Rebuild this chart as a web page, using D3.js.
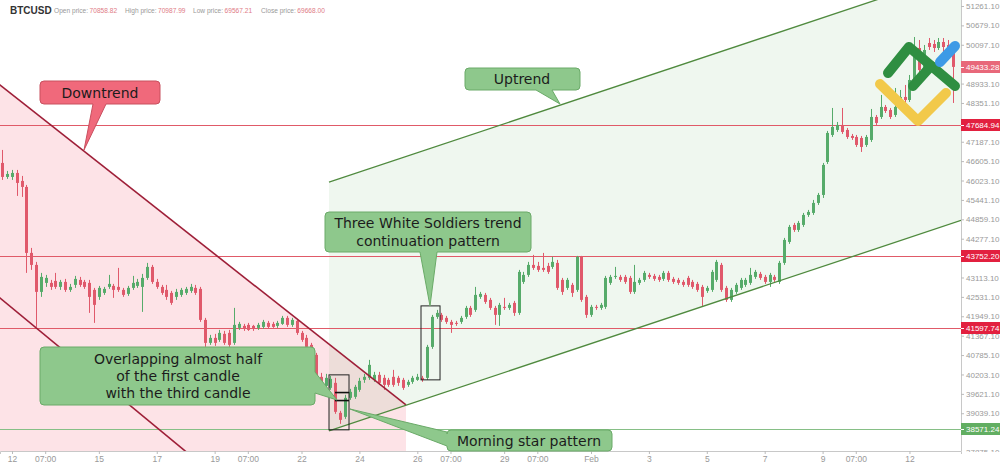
<!DOCTYPE html>
<html><head><meta charset="utf-8">
<script src="https://cdn.jsdelivr.net/npm/d3@7"></script>
<style>
html,body{margin:0;padding:0;background:#fff;}
svg{display:block;}
</style></head><body>
<svg id="chart" width="1000" height="467"></svg>
<script>
// ---------------- DATA ----------------
const symbol = "BTCUSD";
const headerLabels = ["Open price:", "High price:", "Low price:", "Close price:"];
const headerValues = ["70858.82", "70987.99", "69567.21", "69668.00"];

const startTime = "2022-01-11T16:00:00Z"; // first 4h candle
const candleHours = 4;

const opens = [46551,46131,46131,46251,46011,45831,43851,43491,42681,42951,
42951,43011,42831,42981,42741,42891,43041,42981,42951,42741,
42531,42651,42831,42861,42831,42741,42621,42801,42861,42831,
43101,43431,42981,42831,42741,42651,42531,42591,42651,42711,
42801,42771,41841,41151,41301,41241,41421,41451,41151,41601,
41661,41691,41661,41601,41631,41751,41721,41661,41721,41901,
41691,41811,41451,41301,41091,40791,40131,39861,39801,39951,
39051,38931,39501,39531,39741,40041,40101,40041,40191,40101,
40041,40131,40101,40041,39891,39981,40041,40101,40101,41031,
41931,41991,41901,41781,41751,41781,41931,42201,42141,42531,
42591,42441,42201,41991,42231,42201,42351,42051,42981,43191,
43491,43461,43401,43461,43431,43551,43041,42801,42891,42741,
43731,42531,41991,42231,42201,42231,42951,43131,43131,43131,
43101,42681,42951,43041,43191,43161,43131,43071,43251,43071,
43041,42981,43101,42981,42921,42831,42711,42741,43041,43491,
42801,42441,42681,42801,42891,42951,43131,43221,43131,42981,
43131,42981,43551,44181,44691,44541,44691,44991,45051,45351,
45591,46581,47391,47541,47691,47541,47361,47331,47301,47091,
47241,47931,47931,48231,48141,47991,48231,48531,48441,48801,
50001,49281,50151,50121,50001,50181,50091,49941];
const highs = [46941,46311,46341,46341,46161,45891,44001,43581,43251,43191,
43041,43251,43041,43071,42921,43161,43131,43041,43041,42801,
42861,42831,43191,42921,43401,42801,42861,43161,43071,43221,
43551,43491,43071,42891,42891,42711,42771,42801,42831,42921,
42891,42831,41901,41391,41421,41541,41511,41541,42201,41781,
41721,41751,41691,41751,41841,41811,41781,41811,41961,41961,
41901,41871,41511,41391,41151,40851,40251,40221,40161,40101,
39111,39591,39771,39891,40101,40221,40641,40281,40281,40191,
40101,40341,40161,40101,40041,40161,40221,40161,41091,41991,
42141,42051,41961,41841,41811,41961,42261,42261,42831,42681,
42651,42501,42261,42351,42501,42351,42411,43341,43281,43581,
43791,43581,43851,43551,43731,43641,43101,43101,42951,43761,
43761,42591,42291,42291,42351,43161,43191,43431,43191,43191,
43161,43491,43101,43311,43251,43221,43191,43311,43311,43131,
43101,43041,43161,43041,42981,42891,42861,43341,43641,43551,
42861,42801,42951,43101,43101,43401,43341,43281,43191,43251,
43191,43611,44301,44691,44751,44811,45051,45141,45441,45651,
46551,47511,48201,47781,48201,47601,47421,47391,47361,47391,
48171,47991,48591,48291,48201,48801,48741,48891,49191,50331,
50241,50091,50301,50241,50301,50301,50241,50181];
const lows = [46041,46071,46041,45561,45531,43251,43341,41631,42531,42831,
42741,42771,42741,42681,42681,42801,42831,42771,42051,41751,
42441,42591,42771,42501,42681,42531,42561,42741,42801,42081,
43041,42921,42771,42591,42441,42291,42441,42531,42591,42651,
42591,41781,41031,41091,41061,41181,41091,41031,41091,41541,
41511,41511,41511,41541,41571,41571,41601,41601,41691,41631,
41631,41391,41181,40941,40701,40041,39831,39771,39741,39021,
38721,38871,39441,39471,39681,39951,40041,39981,39891,39741,
39831,39831,39861,39741,39831,39921,40011,39981,40041,40971,
41871,41781,41721,41451,41661,41721,41871,41931,42081,42471,
42321,42141,41691,41661,42141,42141,41961,41991,42921,43131,
43341,43281,43281,43221,43371,42741,42591,42741,42531,42681,
42381,41901,41931,42141,42141,42171,42891,43071,42981,42921,
42621,42621,42891,42981,43071,43011,42981,43011,42981,42921,
42891,42831,42831,42771,42681,42261,42651,42681,42981,42681,
42381,42381,42621,42741,42831,42891,43071,43041,42921,42831,
42981,42921,43491,44121,44481,44481,44631,44931,44991,45291,
45501,46521,47331,47481,47421,47271,47241,47031,46881,47031,
47181,47691,47871,48051,47871,47931,48141,48291,48381,48741,
49191,49191,49941,49881,49941,49881,49641,48351];
const closes = [46131,46221,46251,45951,45831,43851,43491,42681,43131,43101,
42831,42831,42981,42741,42831,43071,42891,42831,42531,42291,
42801,42771,42921,42741,42741,42591,42801,42951,42981,43101,
43431,42981,42831,42651,42531,42351,42681,42741,42771,42831,
42651,41841,41151,41301,41151,41451,41151,41091,41691,41721,
41571,41541,41571,41691,41781,41631,41631,41751,41901,41691,
41841,41451,41241,41031,40761,40131,39891,40101,40071,39081,
38841,39501,39681,39831,40011,40131,40491,40191,39951,39891,
39891,39891,39951,39801,39981,40101,40131,40041,41031,41931,
42051,41841,41781,41691,41721,41901,42201,41991,42591,42621,
42381,42201,41991,42291,42201,42291,42051,43281,43191,43491,
43401,43341,43341,43281,43581,42801,42681,43041,42651,43731,
42441,41991,42231,42201,42291,43101,43131,43161,43041,42981,
42681,42981,43041,43251,43131,43071,43041,43251,43041,42981,
42951,42891,42891,42831,42741,42531,42801,43281,43581,42741,
42441,42741,42891,43041,43041,43191,43281,43101,42981,43191,
43041,43551,44241,44631,44541,44751,44991,45081,45351,45591,
46491,47451,47631,47691,47481,47331,47301,47091,47031,47331,
47931,47751,48231,48111,47931,48231,48531,48441,49041,50001,
49341,49941,50031,50001,50181,50031,49791,49433.28];

const priceTicks = [51261.10,50679.10,50097.10,49515.10,48933.10,48351.10,47769.10,47187.10,
46605.10,46023.10,45441.10,44859.10,44277.10,43695.10,43113.10,42531.10,41949.10,41367.10,
40785.10,40203.10,39621.10,39039.10,38457.10,37875.10];
const timeTickDates = ["2022-01-12T00:00Z","2022-01-13T03:30Z","2022-01-15T00:00Z","2022-01-17T00:00Z",
"2022-01-19T00:00Z","2022-01-20T03:30Z","2022-01-22T00:00Z","2022-01-24T00:00Z","2022-01-26T00:00Z",
"2022-01-27T03:30Z","2022-01-29T00:00Z","2022-01-30T03:30Z","2022-02-01T00:00Z","2022-02-03T00:00Z",
"2022-02-05T00:00Z","2022-02-07T00:00Z","2022-02-09T00:00Z","2022-02-10T03:30Z","2022-02-12T00:00Z"];
const timeTickLabels = ["12","07:00","15","17","19","07:00","22","24","26","07:00","29","07:00",
"Feb","3","5","7","9","07:00","12"];

const levelPrices = [47684.94, 43752.20, 41597.74, 38571.24];
const levelKinds = ["red","red","red","green"];
const lastPrice = 49433.28;

// trend channels (date, price)
const downUpper = [["2022-01-11T12:00Z",48951],["2022-01-25T14:38Z",39291]];
const downLower = [["2022-01-11T12:00Z",42561],["2022-01-18T11:50Z",37539]];
const upUpper = [["2022-01-22T22:48Z",45975],["2022-02-13T18:44Z",52290]];
const upLower = [["2022-01-22T22:48Z",38511],["2022-02-13T18:44Z",44826]];
const starBox = [["2022-01-22T22:48Z",40191],["2022-01-23T15:23Z",38541]];
const starMarks = [39660, 39420];
const soldiersBox = [["2022-01-26T03:04Z",42261],["2022-01-26T18:50Z",40041]];

// ---------------- CHART ----------------
const W = 1000, H = 467, plotR = 961, plotB = 451;
const svg = d3.select("#chart");
const x = d3.scaleUtc().domain([new Date("2022-01-11T14:03:00Z"), new Date("2022-02-13T18:44:00Z")]).range([0, plotR]);
const y = d3.scaleLinear().domain([37906, 51441]).range([plotB, 0]);
const P = (d, p) => [x(new Date(d)), y(p)];
const AX_FONT = "'Liberation Sans',Arial,sans-serif";

svg.append("rect").attr("width", W).attr("height", H).attr("fill", "#fff");
const defs = svg.append("defs");
defs.append("clipPath").attr("id", "plotClip").append("rect").attr("x", 0).attr("y", 0).attr("width", plotR).attr("height", plotB);
defs.append("clipPath").attr("id", "axClip").append("rect").attr("x", -2).attr("y", 0).attr("width", 45).attr("height", 452);

const plot = svg.append("g").attr("clip-path", "url(#plotClip)");

// channel fills
const downPoly = [P(downUpper[0][0], downUpper[0][1]), P(downUpper[1][0], downUpper[1][1]),
  P(downUpper[1][0], y.domain()[0]), P(downUpper[0][0], y.domain()[0])];
plot.append("path").attr("d", "M" + downPoly.join("L") + "Z").attr("fill", "rgba(245,100,120,0.18)");
const upPoly = [P(upUpper[0][0], upUpper[0][1]), P(upUpper[1][0], upUpper[1][1]),
  P(upLower[1][0], upLower[1][1]), P(upLower[0][0], upLower[0][1])];
plot.append("path").attr("d", "M" + upPoly.join("L") + "Z").attr("fill", "rgba(95,180,95,0.10)");

// horizontal levels
levelPrices.forEach((p, i) => {
  plot.append("line").attr("x1", 0).attr("x2", plotR).attr("y1", Math.round(y(p)) + 0.5).attr("y2", Math.round(y(p)) + 0.5)
    .attr("stroke", levelKinds[i] === "red" ? "#e05a68" : "#86bf86").attr("stroke-width", 1);
});

// candles
const t0 = new Date(startTime).getTime();
const candles = opens.map((o, i) => ({
  t: new Date(t0 + i * candleHours * 3600000), o, h: highs[i], l: lows[i], c: closes[i]
}));
const cg = plot.append("g");
candles.forEach(d => {
  const cx = x(d.t);
  const col = d.c >= d.o ? "#56ab6a" : "#e0596b";
  cg.append("line").attr("x1", Math.round(cx) + 0.5).attr("x2", Math.round(cx) + 0.5)
    .attr("y1", y(d.h)).attr("y2", y(d.l)).attr("stroke", col).attr("stroke-width", 1);
  const top = y(Math.max(d.o, d.c)), bot = y(Math.min(d.o, d.c));
  cg.append("rect").attr("x", Math.round(cx) - 1).attr("y", top).attr("width", 3)
    .attr("height", Math.max(1, bot - top)).attr("fill", col);
});

// trend lines
const seg = (a, col, w) => plot.append("line")
  .attr("x1", x(new Date(a[0][0]))).attr("y1", y(a[0][1]))
  .attr("x2", x(new Date(a[1][0]))).attr("y2", y(a[1][1]))
  .attr("stroke", col).attr("stroke-width", w);
seg(downUpper, "#9e1f38", 1.6);
seg(downLower, "#9e1f38", 1.6);
seg(upUpper, "#4f8a3e", 1.3);
seg(upLower, "#4f8a3e", 1.3);

// pattern boxes
const box = (b) => {
  const a = P(b[0][0], b[0][1]), c = P(b[1][0], b[1][1]);
  plot.append("rect").attr("x", a[0]).attr("y", a[1]).attr("width", c[0] - a[0]).attr("height", c[1] - a[1])
    .attr("fill", "none").attr("stroke", "#222").attr("stroke-width", 1);
  return [a, c];
};
const sb = box(starBox);
starMarks.forEach(p => plot.append("line").attr("x1", sb[0][0] + 6).attr("x2", sb[1][0]).attr("y1", y(p)).attr("y2", y(p))
  .attr("stroke", "#111").attr("stroke-width", 1.6));
box(soldiersBox);

// ---------- axes ----------
const xAxis = d3.axisBottom(x).tickValues(timeTickDates.map(d => new Date(d)))
  .tickFormat((d, i) => timeTickLabels[i]).tickSize(3).tickPadding(2);
const gx = svg.append("g").attr("transform", `translate(0,${plotB})`).call(xAxis);
gx.select(".domain").attr("stroke", "#c8c8c8");
gx.selectAll(".tick line").attr("stroke", "#bbb");
gx.selectAll(".tick text").attr("fill", "#999").style("font-family", AX_FONT).style("font-size", "8.5px");

// tick labels fully covered by a price tag are not drawn (hidden in the reference too)
const tagPrices = [lastPrice].concat(levelPrices);
const shownTicks = priceTicks.filter(v => !tagPrices.some(p => Math.abs(y(v) - y(p)) < 5));
const yAxis = d3.axisRight(y).tickValues(shownTicks).tickFormat(d3.format(".2f")).tickSize(3).tickPadding(2);
const gy = svg.append("g").attr("transform", `translate(${plotR},0)`).attr("clip-path", "url(#axClip)").call(yAxis);
gy.select(".domain").attr("stroke", "#c8c8c8").attr("d", `M0.5,0V${plotB}`);
gy.selectAll(".tick line").attr("stroke", "#bbb");
gy.selectAll(".tick text").attr("fill", "#999").style("font-family", AX_FONT).style("font-size", "8px");

// price tags
const tag = (p, fill) => {
  const yy = Math.round(y(p));
  const g = svg.append("g");
  g.append("rect").attr("x", plotR).attr("y", yy - 6).attr("width", W - plotR).attr("height", 12).attr("fill", fill);
  g.append("line").attr("x1", plotR).attr("x2", plotR + 3).attr("y1", yy + 0.5).attr("y2", yy + 0.5).attr("stroke", "#fff").attr("stroke-width", 1);
  g.append("text").attr("x", plotR + 5).attr("y", yy).attr("dy", "0.35em").attr("fill", "#fff")
    .style("font-family", AX_FONT).style("font-size", "8px").text(d3.format(".2f")(p));
};
tag(lastPrice, "#e8687a");
levelPrices.forEach((p, i) => tag(p, levelKinds[i] === "red" ? "#e2203f" : "#62ae62"));

// ---------- callouts ----------
function callout(bx, by, bw, bh, side, b1, b2, tip, fill, stroke) {
  const r = 4, X2 = bx + bw, Y2 = by + bh;
  let d = `M${bx + r},${by}`;
  if (side === "top") d += `H${b1}L${tip[0]},${tip[1]}L${b2},${by}`;
  d += `H${X2 - r}Q${X2},${by} ${X2},${by + r}`;
  if (side === "right") d += `V${b1}L${tip[0]},${tip[1]}L${X2},${b2}`;
  d += `V${Y2 - r}Q${X2},${Y2} ${X2 - r},${Y2}`;
  if (side === "bottom") d += `H${b2}L${tip[0]},${tip[1]}L${b1},${Y2}`;
  d += `H${bx + r}Q${bx},${Y2} ${bx},${Y2 - r}`;
  if (side === "left") d += `V${b2}L${tip[0]},${tip[1]}L${bx},${b1}`;
  d += `V${by + r}Q${bx},${by} ${bx + r},${by}Z`;
  svg.append("path").attr("d", d).attr("fill", fill).attr("stroke", stroke).attr("stroke-width", 1);
}
function label(lines, cx, cy, lh) {
  const t = svg.append("text").attr("text-anchor", "middle").attr("fill", "#1c1c1c")
    .style("font-family", "'DejaVu Sans',sans-serif").style("font-size", "14px");
  const y0 = cy - (lines.length - 1) * lh / 2;
  lines.forEach((s, i) => t.append("tspan").attr("x", cx).attr("y", y0 + i * lh).attr("dy", "0.36em").text(s));
}
const G_FILL = "#8ec88c", G_STROKE = "#6aaa68";
callout(40, 81, 120, 23, "bottom", 93, 106, [84, 150], "#f0697b", "#c8505f");
label(["Downtrend"], 100, 92.5, 17);
callout(465, 68, 115, 22, "bottom", 536, 552, [560, 104], G_FILL, G_STROKE);
label(["Uptrend"], 522, 79, 17);
callout(325, 212, 206, 40, "bottom", 420, 437, [430, 306], G_FILL, G_STROKE);
label(["Three White Soldiers trend", "continuation pattern"], 428, 232, 18);
callout(40, 347, 275, 58, "right", 372, 393, [337, 400], G_FILL, G_STROKE);
label(["Overlapping almost half", "of the first candle", "with the third candle"], 178, 376, 17);
callout(447, 430, 165, 21, "left", 432, 446, [350, 409], G_FILL, G_STROKE);
label(["Morning star pattern"], 529, 440.5, 17);

// ---------- logo ----------
const logo = svg.append("g").attr("fill", "none").attr("stroke-linecap", "round").attr("stroke-linejoin", "round").attr("stroke-width", 10);
logo.append("path").attr("d", "M880,84 L918,121 L946,93").attr("stroke", "#f2c94a");
logo.append("path").attr("d", "M888,73 L909,47 L955,86").attr("stroke", "#2f8e41");
logo.append("path").attr("d", "M913,86 L931,66").attr("stroke", "#2f8e41");
logo.append("path").attr("d", "M940,62 L955,46").attr("stroke", "#3d9ae6");

// ---------- header ----------
const hdr = svg.append("g").style("font-family", "'Liberation Sans',Arial,sans-serif");
hdr.append("text").attr("x", 10).attr("y", 14).attr("fill", "#333").style("font-size", "10px").style("font-weight", "bold").text(symbol);
const hx = [54, 125, 193, 261];
headerLabels.forEach((s, i) => {
  const lt = hdr.append("text").attr("x", hx[i]).attr("y", 13).attr("fill", "#999").style("font-size", "6.6px").text(s);
  const w = lt.node().getComputedTextLength();
  hdr.append("text").attr("x", hx[i] + w + 1.5).attr("y", 13).attr("fill", "#e07b86").style("font-size", "6.6px").text(headerValues[i]);
});
</script>
</body></html>
